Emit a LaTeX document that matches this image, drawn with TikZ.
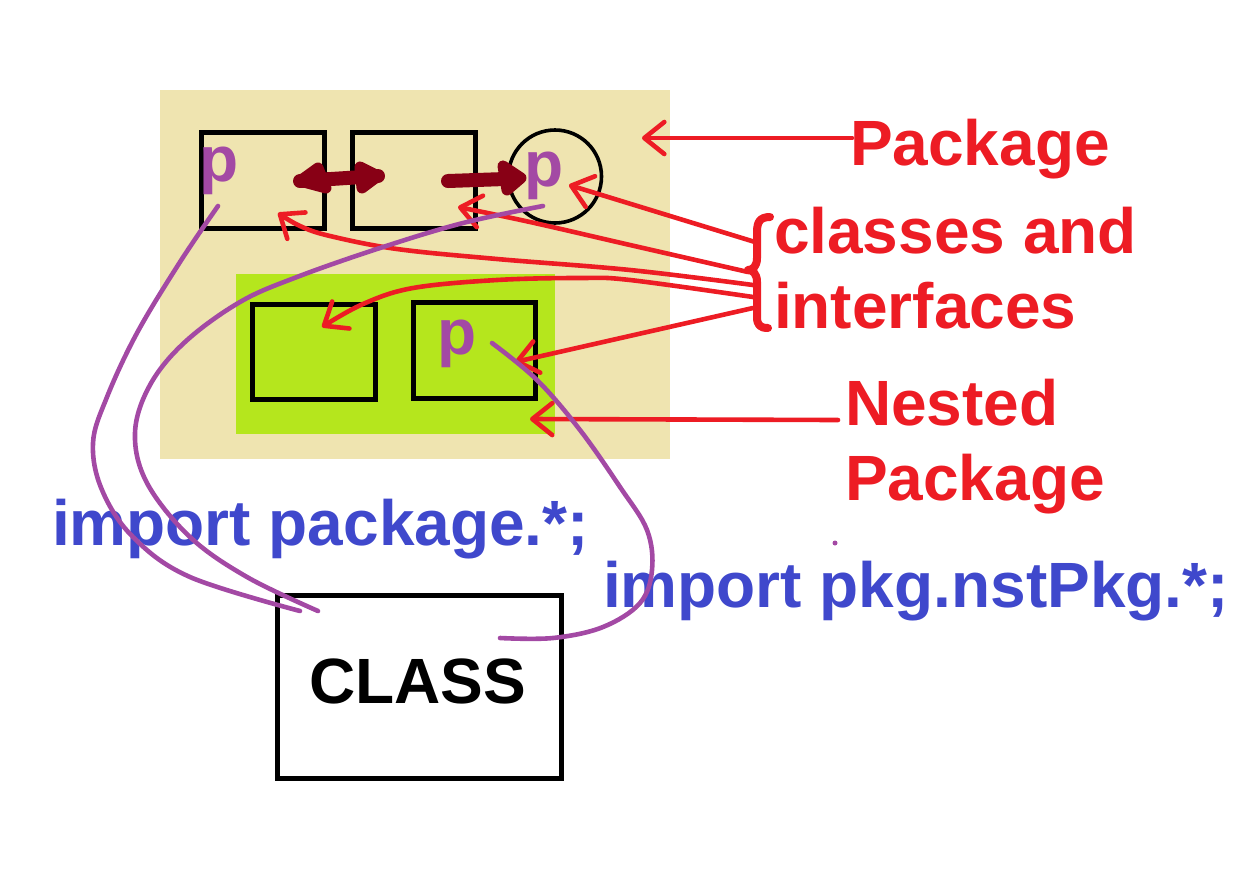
\documentclass[tikz,border=0pt]{standalone}
\usepackage{fontspec}
\setmainfont{Liberation Sans}
\usetikzlibrary{arrows.meta}
\definecolor{pktan}{HTML}{EFE4B0}
\definecolor{pklime}{HTML}{B5E61D}
\definecolor{pkred}{HTML}{ED1C24}
\definecolor{pkdark}{HTML}{880015}
\definecolor{pkpurple}{HTML}{A349A4}
\definecolor{pkblue}{HTML}{3F48CC}
\begin{document}
\begin{tikzpicture}[x=1pt,y=-1pt,
  every node/.style={inner sep=0pt, outer sep=0pt},
  lbl/.style={font=\fontsize{64}{70}\selectfont\bfseries, anchor=base west},
  redlbl/.style={lbl, text=pkred},
  bluelbl/.style={lbl, text=pkblue},
  plbl/.style={lbl, text=pkpurple},
  clsbox/.style={draw=black, line width=5pt},
  redarr/.style={draw=pkred, line width=4.6pt, line cap=round, line join=round,
    -{Straight Barb[length=20pt,width=32pt,round]}},
  purp/.style={draw=pkpurple, line width=4.6pt, line cap=round, line join=round},
  dark/.style={draw=pkdark, fill=pkdark, line width=11pt, line join=round, line cap=round},
  darkshaft/.style={draw=pkdark, line width=14pt, line cap=round},
]
\useasboundingbox (0,0) rectangle (1260,868);

% packages
\node[fill=pktan, minimum width=510, minimum height=369, anchor=north west] (pkg) at (160,90) {};
\node[fill=pklime, minimum width=319, minimum height=160, anchor=north west] (nest) at (236,274) {};

% classes / interfaces
\node[clsbox, minimum width=123, minimum height=96] (c1) at (263,180.5) {};
\node[clsbox, minimum width=123, minimum height=96] (c2) at (413.5,180.5) {};
\node[circle, draw=black, line width=3.6pt, minimum size=93] (c3) at (555,176.5) {};
\node[clsbox, minimum width=123, minimum height=95] (c4) at (314,352) {};
\node[clsbox, minimum width=122, minimum height=96] (c5) at (474,350) {};
\node[clsbox, minimum width=284, minimum height=183] (cls) at (419.5,687) {};

% red labels
\node[redlbl] (lpkg) at (850,165) {Package};
\node[redlbl] (lcls1) at (774,253) {classes and};
\node[redlbl] (lcls2) at (774,328) {interfaces};
\node[redlbl] (lnest1) at (845,425) {Nested};
\node[redlbl] (lnest2) at (845,500) {Package};

% brace
\draw[pkred, line width=8pt, line cap=round, line join=round]
  (770,217) .. controls (760,217) and (757,222) .. (757,232) -- (757,258)
  .. controls (757,266) and (753,270) .. (748,270)
  .. controls (753,270) and (757,274) .. (757,282) -- (757,317)
  .. controls (757,325) and (760,328) .. (768,328);

% red connectors
\coordinate (pkgS) at (852,138);  \coordinate (pkgT) at (642,138);
\coordinate (nstS) at (838,420);  \coordinate (nstT) at (530,419);
\coordinate (b1) at (755,242); \coordinate (t1) at (569,185);
\coordinate (b2) at (748,272); \coordinate (t2) at (458,207);
\coordinate (b3) at (753,285); \coordinate (t3) at (278,213);
\coordinate (b4) at (753,297); \coordinate (t4) at (322,327);
\coordinate (b5) at (753,308); \coordinate (t5) at (515,362);
\draw[redarr] (pkgS) -- (pkgT);
\draw[redarr] (nstS) -- (nstT);
\draw[redarr] (b1) -- (t1);
\draw[redarr] plot[smooth, tension=0.6] coordinates {(b2) (630,245) (530,222) (t2)};
\draw[redarr] plot[smooth, tension=0.6] coordinates {(b3) (630,270) (497,259) (397,249) (330,236) (300,226) (t3)};
\draw[redarr] plot[smooth, tension=0.6] coordinates {(b4) (630,280) (580,278) (497,280) (413,288) (363,304) (t4)};
\draw[redarr] (b5) -- (t5);

% dark red arrows
\coordinate (dL) at (300,181); \coordinate (dR) at (378,176);
\draw[darkshaft] (dL) -- (dR);
\filldraw[dark] (dL) -- (318,168) -- (326,188) -- cycle;
\filldraw[dark] (dR) -- (360,167) -- (362,188) -- cycle;
\coordinate (sA) at (448,181); \coordinate (sB) at (521,178);
\draw[darkshaft] (sA) -- (505,179);
\filldraw[dark] (sB) -- (503,166) -- (507,190) -- cycle;

% p letters
\node[plbl] (p1) at (199,181) {p};
\node[plbl] (p2) at (524,186) {p};
\node[plbl] (p3) at (437,354) {p};

% texts
\node[bluelbl] (imp1) at (52,545) {import package.*;};
\node[bluelbl] (imp2) at (603,607) {import pkg.nstPkg.*;};
\node[lbl] (clst) at (309,703) {CLASS};

% purple import curves
\coordinate (pa) at (218,206);  \coordinate (pae) at (300,611);
\coordinate (pb) at (543,206);  \coordinate (pbe) at (318,611);
\coordinate (pc) at (492,343);  \coordinate (pce) at (500,638);
\draw[purp] plot[smooth, tension=0.6] coordinates {(pa) (180,262) (137,333) (107,397) (93,443) (102,490) (133,537) (190,577) (pae)};
\draw[purp] plot[smooth, tension=0.6] coordinates {(pb) (463,223) (380,248) (297,277) (240,302) (185,342) (150,385) (135,433) (147,483) (190,537) (247,577) (pbe)};
\draw[purp] plot[smooth, tension=0.6] coordinates {(pc) (537,380) (580,430) (620,487) (647,530) (652,570) (640,603) (603,627) (553,638) (pce)};
\fill[pkpurple] (835,543) circle (2.5);
\end{tikzpicture}
\end{document}
